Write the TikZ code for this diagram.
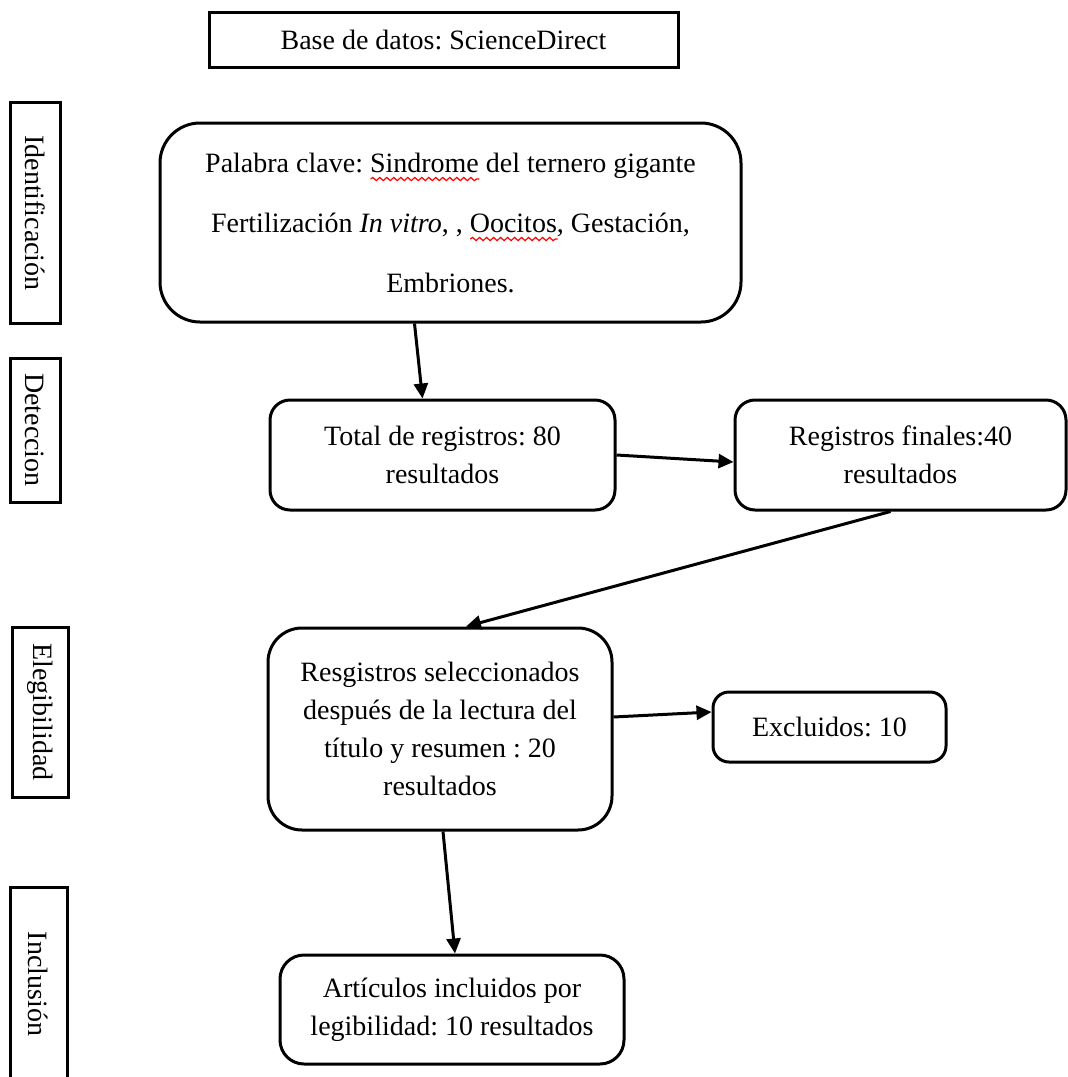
\documentclass[tikz,border=0pt]{standalone}
\usepackage{fontspec}
\setmainfont{Liberation Serif}
\usetikzlibrary{arrows.meta,calc,decorations.pathmorphing}
\newlength\wavewd
\newcommand\redwave[1]{\settowidth\wavewd{#1}\rlap{\tikz[baseline=0pt, x=1pt, y=1pt]\draw[red, sharp corners, line width=0.6pt, decorate,
  decoration={snake, amplitude=0.8pt, segment length=3.5pt}] (0pt,-3.5pt) -- (\wavewd,-3.5pt);}#1}
\tikzset{
  >={Triangle[length=7.5pt,width=7pt]},
  every node/.style={font=\fontsize{14}{19}\selectfont},
  box/.style={draw, line width=1.5pt, rounded corners=10pt, align=center, inner sep=0pt},
  side/.style={draw, line width=1.5pt, rotate=-90, inner sep=0pt},
  link/.style={->, line width=1.5pt}
  }

\begin{document}
\frenchspacing
\begin{tikzpicture}[x=0.5pt, y=-0.5pt]
    \useasboundingbox (0,0) rectangle (1068,1077);

    \node [draw, line width=1.5pt, minimum width=234.5pt, minimum height=27.5pt] (base) at (443.5,39.5) {Base de datos: ScienceDirect};

    \node [side, minimum width=110.5pt, minimum height=25pt] (ident) at (35,213) {Identificación};
    \node [side, minimum width=72pt, minimum height=25pt] (detec) at (35,430) {Deteccion};
    \node [side, minimum width=85pt, minimum height=28pt] (eleg) at (40,712) {Elegibilidad};
    \node [side, minimum width=97pt, minimum height=28.5pt] (inclu) at (38.5,984) {Inclusión};

    \node [box, rounded corners=20pt, minimum width=290.5pt, minimum height=99.5pt, font=\fontsize{14}{30}\selectfont] (pal) at (450.5,222.5)
      {Palabra clave: \redwave{Sindrome} del ternero gigante\\Fertilización \textit{In vitro}, , \redwave{Oocitos}, Gestación,\\Embriones.};
    \node [box, minimum width=172.5pt, minimum height=55pt] (tot) at (442.5,455) {Total de registros: 80\\resultados};
    \node [box, minimum width=165.5pt, minimum height=55pt] (fin) at (900.5,455) {Registros finales:40\\resultados};
    \node [box, rounded corners=17pt, minimum width=172pt, minimum height=101pt] (sel) at (440,729)
      {Resgistros seleccionados\\después de la lectura del\\título y resumen : 20\\resultados};
    \node [box, rounded corners=8pt, minimum width=116.5pt, minimum height=35pt] (exc) at (829.5,727) {Excluidos: 10};
    \node [box, rounded corners=12pt, minimum width=172pt, minimum height=54.5pt] (art) at (452,1009.5) {Artículos incluidos por\\legibilidad: 10 resultados};

    \draw ([xshift=-18pt]pal.south) edge[link] ([xshift=-10pt]tot.north);
    \draw (tot.east) edge[link] ([yshift=-3.5pt]fin.west);
    \draw ([xshift=-5pt]fin.south) edge[link] ([xshift=13pt]sel.north);
    \draw ([yshift=6pt]sel.east) edge[link] ([yshift=7.5pt]exc.west);
    \draw ([xshift=1.5pt]sel.south) edge[link] ([xshift=1.5pt]art.north);

 \end{tikzpicture}
\end{document}
